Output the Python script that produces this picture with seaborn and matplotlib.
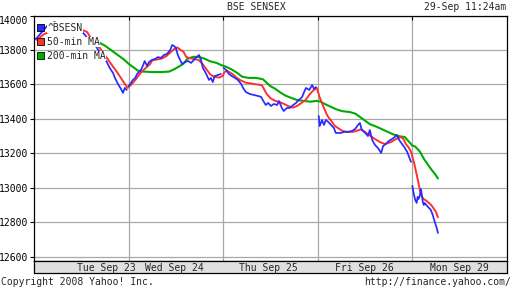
import matplotlib
matplotlib.use("Agg")
import matplotlib.pyplot as plt
import seaborn as sns
import pandas as pd
import numpy as np
from matplotlib.patches import Patch

# ---------------- data ----------------
title = "BSE SENSEX"
stamp = "29-Sep 11:24am"
copyright_txt = "Copyright 2008 Yahoo! Inc."
url_txt = "http://finance.yahoo.com/"
day_labels = ["Tue Sep 23", "Wed Sep 24", "Thu Sep 25", "Fri Sep 26", "Mon Sep 29"]
day_label_pos = [0.76, 1.48, 2.48, 3.49, 4.50]
day_bounds = [1, 2, 3, 4]
yticks = [12600, 12800, 13000, 13200, 13400, 13600, 13800, 14000]
series_names = ["^BSESN", "50-min MA", "200-min MA"]

# time in trading days since Tue Sep 23 open
bse_t = [0.00, 0.03, 0.085, 0.14, 0.19, 0.22, 0.275, 0.33, 0.38, 0.43, 0.49, 0.54, 0.59, 0.645,
         0.68, 0.71, 0.74, 0.77, 0.80, 0.835, 0.856, 0.877, 0.90, 0.92, 0.94, 0.96, 0.98,
         1.00, 1.025, 1.045, 1.07, 1.09, 1.11, 1.13, 1.15, 1.17, 1.195, 1.215, 1.245, 1.28,
         1.31, 1.34, 1.375, 1.405, 1.44, 1.46, 1.48, 1.50, 1.52, 1.545, 1.565, 1.595, 1.63,
         1.66, 1.69, 1.72, 1.745, 1.765, 1.785, 1.81, 1.83, 1.85, 1.87, 1.89, 1.91, 1.945, 1.975,
         2.005, 2.03, 2.06, 2.09, 2.125, 2.155, 2.19, 2.21, 2.24, 2.28, 2.325, 2.37, 2.40, 2.43,
         2.45, 2.475, 2.505, 2.535, 2.57, 2.59, 2.62, 2.64, 2.675, 2.705, 2.74, 2.77, 2.80,
         2.835, 2.855, 2.875, 2.91, 2.94, 2.96, 2.98,
         3.01, 3.02, 3.045, 3.065, 3.085, 3.11, 3.14, 3.17, 3.19, 3.21, 3.245, 3.275, 3.32,
         3.36, 3.395, 3.425, 3.445, 3.465, 3.50, 3.53, 3.55, 3.575, 3.605, 3.635, 3.67, 3.69,
         3.72, 3.75, 3.785, 3.815, 3.835, 3.86, 3.89, 3.92, 3.945, 3.965, 3.985,
         4.00, 4.01, 4.02, 4.03, 4.045, 4.055, 4.065, 4.08, 4.09, 4.10, 4.11, 4.12, 4.13,
         4.155, 4.175, 4.195, 4.215, 4.23, 4.24, 4.25, 4.26, 4.27]
bse_v = [13858, 13870, 13905, 13940, 13955, 13962, 13940, 13950, 13928, 13933, 13916, 13887, 13846, 13829,
         13800, 13771, 13754, 13730, 13696, 13667, 13638, 13614, 13591, 13574, 13551, 13580, 13568,
         13591, 13609, 13626, 13638, 13661, 13672, 13684, 13707, 13736, 13707, 13730, 13742, 13748,
         13759, 13754, 13771, 13777, 13800, 13829, 13823, 13812, 13771, 13742, 13719, 13730, 13736,
         13725, 13742, 13759, 13771, 13742, 13696, 13672, 13649, 13626, 13638, 13614, 13649, 13655, 13661,
         13696, 13684, 13661, 13649, 13638, 13626, 13603, 13580, 13556, 13545, 13539, 13533, 13528, 13499,
         13481, 13493, 13475, 13487, 13481, 13504, 13464, 13446, 13464, 13464, 13481, 13493, 13510,
         13528, 13556, 13580, 13568, 13597, 13574, 13585,
         13417, 13359, 13394, 13365, 13394, 13383, 13365, 13348, 13319, 13319, 13319, 13325, 13325,
         13330, 13342, 13365, 13377, 13336, 13319, 13301, 13336, 13278, 13249, 13232, 13203, 13243,
         13255, 13272, 13284, 13296, 13307, 13278, 13255, 13232, 13209, 13180, 13151,
         13012, 12977, 12953, 12930, 12913, 12948, 12936, 12959, 12994, 12959, 12919, 12901, 12913,
         12896, 12884, 12872, 12843, 12814, 12797, 12780, 12762, 12739]

ma50_t = [0.03, 0.10, 0.20, 0.30, 0.40, 0.50, 0.56, 0.60, 0.64, 0.70,
          0.73, 0.77, 0.80, 0.84, 0.88, 0.91, 0.94, 0.97, 0.99, 1.03,
          1.07, 1.11, 1.15, 1.19, 1.23, 1.25, 1.30, 1.35, 1.40, 1.44,
          1.48, 1.515, 1.55, 1.58, 1.61, 1.67, 1.74, 1.78, 1.82, 1.86,
          1.90, 1.96, 2.00, 2.01, 2.04, 2.10, 2.14, 2.18, 2.24, 2.30,
          2.36, 2.41, 2.43, 2.46, 2.50, 2.55, 2.60, 2.64, 2.69, 2.74,
          2.78, 2.82, 2.87, 2.91, 2.95, 2.99, 3.02, 3.06, 3.10, 3.14,
          3.18, 3.22, 3.26, 3.32, 3.37, 3.42, 3.46, 3.51, 3.56, 3.60,
          3.66, 3.71, 3.77, 3.83, 3.88, 3.91, 3.93, 3.96, 3.99, 4.00,
          4.02, 4.04, 4.06, 4.08, 4.10, 4.12, 4.15, 4.17, 4.20, 4.22,
          4.25, 4.27]
ma50_v = [13858, 13890, 13915, 13920, 13922, 13918, 13905, 13870, 13840, 13810,
          13780, 13755, 13730, 13700, 13670, 13645, 13620, 13595, 13580, 13600,
          13625, 13655, 13680, 13700, 13720, 13740, 13745, 13750, 13765, 13785,
          13805, 13815, 13800, 13790, 13759, 13750, 13742, 13720, 13690, 13660,
          13645, 13640, 13652, 13670, 13680, 13660, 13640, 13625, 13610, 13605,
          13600, 13595, 13575, 13545, 13520, 13505, 13497, 13488, 13474, 13466,
          13475, 13490, 13510, 13540, 13565, 13580, 13525, 13470, 13420, 13390,
          13360, 13345, 13330, 13325, 13325, 13333, 13340, 13320, 13300, 13285,
          13265, 13255, 13265, 13285, 13295, 13280, 13255, 13235, 13205, 13180,
          13140, 13090, 13040, 12985, 12950, 12935, 12925, 12915, 12900, 12885,
          12860, 12830]

ma200_t = [0.70, 0.75, 0.80, 0.85, 0.90, 0.95, 1.00, 1.05, 1.10, 1.15,
           1.25, 1.35, 1.43, 1.47, 1.52, 1.58, 1.62, 1.68, 1.74, 1.80,
           1.86, 1.93, 1.98, 2.02, 2.08, 2.14, 2.20, 2.27, 2.35, 2.42,
           2.47, 2.50, 2.55, 2.60, 2.66, 2.72, 2.78, 2.85, 2.92, 2.99,
           3.03, 3.08, 3.14, 3.20, 3.26, 3.34, 3.40, 3.45, 3.50, 3.55,
           3.62, 3.68, 3.74, 3.80, 3.86, 3.92, 3.96, 4.00, 4.03, 4.08,
           4.12, 4.17, 4.21, 4.24, 4.27]
ma200_v = [13840, 13825, 13805, 13785, 13765, 13745, 13720, 13700, 13680, 13675,
           13672, 13672, 13675, 13685, 13700, 13720, 13748, 13760, 13760, 13750,
           13735, 13725, 13712, 13705, 13690, 13670, 13645, 13638, 13638, 13630,
           13605, 13590, 13575, 13555, 13535, 13522, 13510, 13505, 13500, 13505,
           13500, 13485, 13470, 13455, 13445, 13440, 13430, 13410, 13390, 13370,
           13355, 13340, 13325, 13310, 13300, 13295, 13270, 13245, 13240, 13210,
           13170, 13130, 13100, 13080, 13055]

assert len(bse_t) == len(bse_v) and len(ma50_t) == len(ma50_v) and len(ma200_t) == len(ma200_v)

# ---------------- style ----------------
BLUE, RED, GREEN = "#2a2aff", "#ff3030", "#00aa00"
GRID = "#a8a8a8"
sns.set_theme(style="white")
MONO = ["DejaVu Sans Mono"]
plt.rcParams["font.family"] = MONO
FS = 7

W, H = 512, 288
fig = plt.figure(figsize=(W / 100, H / 100), dpi=100)
L, R, T, B = 34, 507, 15.5, 260.7
ax = fig.add_axes([L / W, 1 - B / H, (R - L) / W, (B - T) / H])

df_bse = pd.DataFrame({"t": bse_t, "v": bse_v})
df_bse["day"] = np.floor(df_bse["t"]).astype(int)
df50 = pd.DataFrame({"t": ma50_t, "v": ma50_v})
df200 = pd.DataFrame({"t": ma200_t, "v": ma200_v})

sns.lineplot(data=df200, x="t", y="v", ax=ax, color=GREEN, lw=1.5, estimator=None, sort=False)
sns.lineplot(data=df50, x="t", y="v", ax=ax, color=RED, lw=1.4, estimator=None, sort=False)
sns.lineplot(data=df_bse, x="t", y="v", units="day", ax=ax, color=BLUE, lw=1.25,
             estimator=None, sort=False, legend=False)

ax.set_xlim(0, 5)
ax.set_ylim(12578, 14000)
ax.set_xticks(day_bounds)
ax.set_xticklabels([])
ax.set_yticks(yticks)
ax.set_yticklabels([str(y) for y in yticks], fontsize=FS, color="black")
ax.set_xlabel("")
ax.set_ylabel("")
ax.grid(True, color=GRID, lw=0.9)
ax.tick_params(axis="x", direction="in", bottom=False, top=True, length=3, color="black", width=0.8)
ax.tick_params(axis="y", direction="out", left=True, right=False, length=3, pad=1,
               color="black", width=0.8)
lbls = ax.get_yticklabels()
lbls[-1].set_verticalalignment("top")
for s in ax.spines.values():
    s.set_color("black")
    s.set_linewidth(0.9)

handles = [Patch(facecolor=c, edgecolor="black", lw=0.6) for c in (BLUE, RED, GREEN)]
leg = ax.legend(handles, series_names, loc="upper left", bbox_to_anchor=(-0.003, 1.0 - 3.0 / 245),
                frameon=False, fontsize=FS, handlelength=0.75, handleheight=0.75,
                handletextpad=0.3, labelspacing=0.42, borderaxespad=0.25, borderpad=0.2)
for txt in leg.get_texts():
    txt.set_bbox(dict(facecolor="white", edgecolor="none", pad=0.3))

# date strip
sx = fig.add_axes([L / W, 1 - 273.3 / H, (R - L) / W, (273.3 - B) / H])
sx.set_facecolor("#e0e0e0")
sx.set_xlim(0, 5)
sx.set_ylim(0, 1)
sx.set_xticks([])
sx.set_yticks([])
for s in sx.spines.values():
    s.set_color("black")
    s.set_linewidth(0.9)
for p, lab in zip(day_label_pos, day_labels):
    sx.text(p, 0.45, lab, ha="center", va="center", fontsize=FS)

fig.text(0.5, 1 - 7 / H, title, ha="center", va="center", fontsize=FS)
fig.text(506 / W, 1 - 7 / H, stamp, ha="right", va="center", fontsize=FS)
fig.text(1 / W, 1 - 282 / H, copyright_txt, ha="left", va="center", fontsize=FS)
fig.text(511 / W, 1 - 282 / H, url_txt, ha="right", va="center", fontsize=FS)

fig.savefig("out.png", dpi=100, facecolor="white")
